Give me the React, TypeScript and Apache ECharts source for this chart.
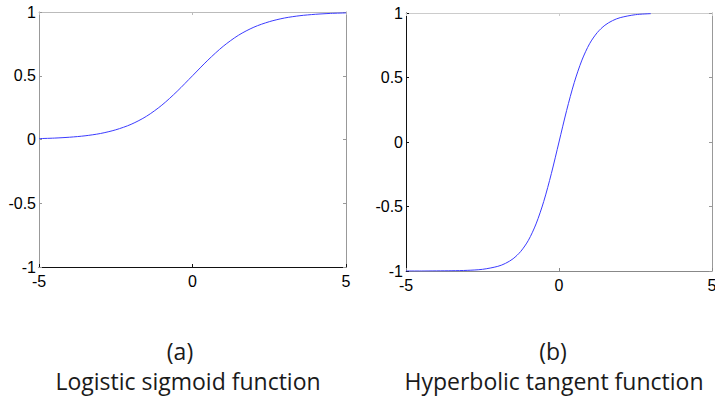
import React, { useEffect, useRef } from "react";
import * as echarts from "echarts";

const sigmoidX = [-5, -4.5, -4, -3.5, -3, -2.5, -2, -1.5, -1, -0.5, 0, 0.5, 1, 1.5, 2, 2.5, 3, 3.5, 4, 4.5, 5];
const sigmoidY = [0.007, 0.011, 0.018, 0.029, 0.047, 0.076, 0.119, 0.182, 0.269, 0.378, 0.5, 0.622, 0.731, 0.818, 0.881, 0.924, 0.953, 0.971, 0.982, 0.989, 0.993];

const tanhX = [-5, -4.5, -4, -3.5, -3, -2.5, -2, -1.75, -1.5, -1.25, -1, -0.75, -0.5, -0.25, 0, 0.25, 0.5, 0.75, 1, 1.25, 1.5, 1.75, 2, 2.5, 3];
const tanhY = [-1.0, -1.0, -0.999, -0.998, -0.995, -0.987, -0.964, -0.941, -0.905, -0.848, -0.762, -0.635, -0.462, -0.245, 0, 0.245, 0.462, 0.635, 0.762, 0.848, 0.905, 0.941, 0.964, 0.987, 0.995];

const captionsTop = ["(a)", "(b)"];
const captionsBottom = ["Logistic sigmoid function", "Hyperbolic tangent function"];

const TICK_FONT = "Liberation Sans";
const CAP_FONT = "'Open Sans', 'Noto Sans', sans-serif";

function makeAxes(gridIndex: number, colors: { left: string; bottom: string; top: string; right: string }) {
  const common = { type: "value", gridIndex, splitLine: { show: false } };
  const xBottom = {
    ...common,
    position: "bottom",
    min: -5,
    max: 5,
    interval: 5,
    axisLine: { show: true, onZero: false, lineStyle: { color: colors.bottom, width: 1 } },
    axisTick: { show: true, inside: true, length: 3, lineStyle: { color: colors.bottom } },
    axisLabel: { show: true, color: "#000", fontFamily: TICK_FONT, fontSize: 16, margin: 6, hideOverlap: false },
  };
  const xTop = {
    ...common,
    position: "top",
    min: -5,
    max: 5,
    interval: 5,
    axisLine: { show: true, onZero: false, lineStyle: { color: colors.top, width: 1 } },
    axisTick: { show: true, inside: true, length: 3, lineStyle: { color: colors.top } },
    axisLabel: { show: false },
  };
  const yLeft = {
    ...common,
    position: "left",
    min: -1,
    max: 1,
    interval: 0.5,
    axisLine: { show: true, onZero: false, lineStyle: { color: colors.left, width: 1 } },
    axisTick: { show: true, inside: true, length: 3, lineStyle: { color: colors.left } },
    axisLabel: { show: true, color: "#000", fontFamily: TICK_FONT, fontSize: 16, margin: 3 },
  };
  const yRight = {
    ...common,
    position: "right",
    min: -1,
    max: 1,
    interval: 0.5,
    axisLine: { show: true, onZero: false, lineStyle: { color: colors.right, width: 1 } },
    axisTick: { show: true, inside: true, length: 3, lineStyle: { color: colors.right } },
    axisLabel: { show: false },
  };
  return { x: [xBottom, xTop], y: [yLeft, yRight] };
}

export default function App() {
  const ref = useRef<HTMLDivElement>(null);
  useEffect(() => {
    document.body.style.margin = "0";
    document.body.style.overflow = "hidden";
    document.documentElement.style.overflow = "hidden";
    if (!ref.current) return;
    const chart = echarts.init(ref.current, null, { renderer: "svg" });
    const a = makeAxes(0, { left: "#999", bottom: "#111", top: "#bbb", right: "#999" });
    const b = makeAxes(1, { left: "#111", bottom: "#888", top: "#ccc", right: "#999" });
    const capStyle = { fill: "#1a1a1a", font: `23px ${CAP_FONT}`, textAlign: "center", textVerticalAlign: "middle" };
    const option: any = {
      animation: false,
      backgroundColor: "#fff",
      grid: [
        { left: 39, top: 12, width: 307, height: 255 },
        { left: 406, top: 13, width: 306, height: 258 },
      ],
      xAxis: [...a.x, ...b.x],
      yAxis: [...a.y, ...b.y],
      series: [
        {
          type: "line",
          xAxisIndex: 0,
          yAxisIndex: 0,
          data: sigmoidX.map((x, i) => [x, sigmoidY[i]]),
          showSymbol: false,
          smooth: 0.3,
          lineStyle: { color: "#3b3bff", width: 1 },
        },
        {
          type: "line",
          xAxisIndex: 2,
          yAxisIndex: 2,
          data: tanhX.map((x, i) => [x, tanhY[i]]),
          showSymbol: false,
          smooth: 0.3,
          lineStyle: { color: "#3b3bff", width: 1 },
        },
      ],
      graphic: [
        { type: "text", x: 180, y: 351, style: { ...capStyle, text: captionsTop[0] } },
        { type: "text", x: 188, y: 381, style: { ...capStyle, text: captionsBottom[0] } },
        { type: "text", x: 553, y: 351, style: { ...capStyle, text: captionsTop[1] } },
        { type: "text", x: 554, y: 381, style: { ...capStyle, text: captionsBottom[1] } },
      ],
    };
    chart.setOption(option);
    return () => chart.dispose();
  }, []);
  return <div ref={ref} style={{ position: "absolute", left: 0, top: 0, width: 730, height: 401 }} />;
}
